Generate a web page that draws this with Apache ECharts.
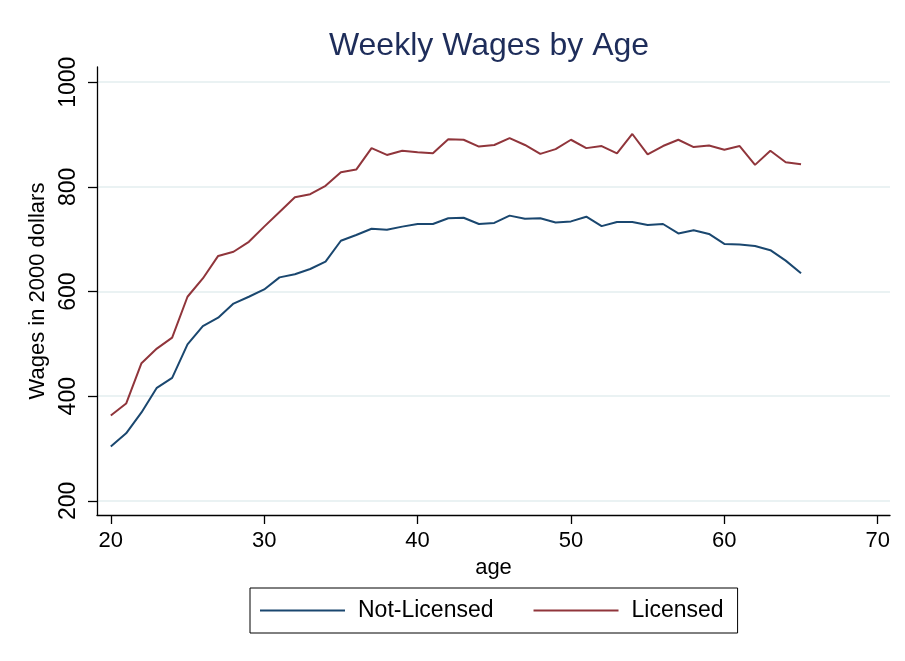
<!DOCTYPE html>
<html>
<head>
<meta charset="utf-8">
<script src="https://cdn.jsdelivr.net/npm/echarts@6/dist/echarts.min.js"></script>
<style>
  html, body { margin: 0; padding: 0; background: #fff; }
  #main { width: 905px; height: 661px; }
</style>
</head>
<body>
<div id="main"></div>
<script>
'use strict';

const ages = [20, 21, 22, 23, 24, 25, 26, 27, 28, 29, 30, 31, 32, 33, 34, 35, 36, 37, 38, 39, 40, 41, 42,
    43, 44, 45, 46, 47, 48, 49, 50, 51, 52, 53, 54, 55, 56, 57, 58, 59, 60, 61, 62, 63, 64, 65];
const notLicensed = [304, 329, 369, 416, 435, 499, 534, 550, 577, 590, 604, 627, 633, 643, 657, 697, 708, 720, 718, 724, 729, 729, 740,
    741, 729, 731, 745, 739, 740, 732, 734, 743, 725, 733, 733, 727, 729, 711, 717, 710, 691, 690, 687, 679, 659, 635];
const licensed = [363, 386, 463, 491, 512, 590, 625, 668, 676, 695, 724, 752, 780, 786, 802, 828, 833, 874, 861, 869, 866, 864, 891,
    890, 877, 880, 893, 880, 863, 872, 890, 874, 878, 864, 901, 862, 878, 890, 876, 879, 871, 878, 842, 869, 847, 843];
const xTicks = [20, 30, 40, 50, 60, 70];
const yTicks = [200, 400, 600, 800, 1000];

const font = 'Liberation Sans, Arial, sans-serif';
const pairs = (ys) => ages.map((a, i) => [a, ys[i]]);

const chartDom = document.getElementById('main');
const myChart = echarts.init(chartDom);
myChart.setOption({
    backgroundColor: '#fff',
    animation: false,
    title: {
        text: 'Weekly Wages by Age',
        left: 484,
        top: 25,
        textAlign: 'center',
        textStyle: { color: '#1e2d5a', fontFamily: font, fontSize: 32, fontWeight: 'normal' }
    },
    grid: { left: 97, right: 15, top: 67, bottom: 146 },
    legend: {
        left: 250,
        top: 588,
        padding: [11, 14, 11, 10],
        borderColor: '#000',
        borderWidth: 1,
        borderRadius: 0,
        icon: 'rect',
        itemWidth: 85,
        itemHeight: 2,
        itemGap: 40,
        textStyle: { fontFamily: font, fontSize: 23, color: '#000', padding: [0, 0, 0, 8] },
        data: ['Not-Licensed', 'Licensed']
    },
    xAxis: {
        type: 'value',
        min: 19.1,
        max: 70.8,
        name: 'age',
        nameLocation: 'middle',
        nameGap: 39,
        nameTextStyle: { fontFamily: font, fontSize: 22, color: '#000' },
        axisLine: { onZero: false, lineStyle: { color: '#000', width: 1.3 } },
        axisTick: { length: 9, lineStyle: { color: '#000', width: 1.3 }, customValues: xTicks },
        axisLabel: {
            customValues: xTicks,
            fontFamily: font, fontSize: 22, color: '#000', margin: 15
        },
        splitLine: { show: false }
    },
    yAxis: {
        type: 'value',
        min: 173,
        max: 1029,
        name: 'Wages in 2000 dollars',
        nameLocation: 'middle',
        nameGap: 36,
        nameTextStyle: { fontFamily: font, fontSize: 22, color: '#000' },
        axisLine: { onZero: false, lineStyle: { color: '#000', width: 1.3 } },
        axisTick: { length: 9, lineStyle: { color: '#000', width: 1.3 }, customValues: yTicks },
        axisLabel: {
            customValues: yTicks,
            rotate: 90,
            formatter: (v) => String(v),
            fontFamily: font, fontSize: 23, color: '#000', margin: 17
        },
        splitLine: { show: true, lineStyle: { color: '#eaf2f3', width: 2 } }
    },
    series: [
        {
            name: 'Not-Licensed',
            type: 'line',
            data: pairs(notLicensed),
            symbol: 'none',
            lineStyle: { color: '#1a476f', width: 2 },
            itemStyle: { color: '#1a476f' }
        },
        {
            name: 'Licensed',
            type: 'line',
            data: pairs(licensed),
            symbol: 'none',
            lineStyle: { color: '#90353b', width: 2 },
            itemStyle: { color: '#90353b' }
        }
    ]
});
window.addEventListener('resize', function () {
    myChart.resize();
});
</script>
</body>
</html>
